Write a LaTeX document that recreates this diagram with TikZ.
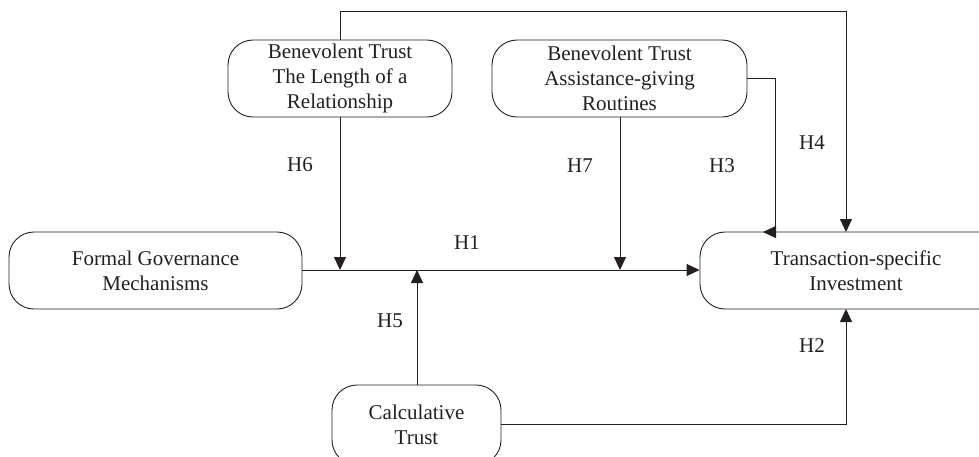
\documentclass[tikz,border=0pt]{standalone}
\usepackage{fontspec}
\setmainfont{Liberation Serif}
\usetikzlibrary{arrows.meta}
\definecolor{ink}{RGB}{35,31,32}
\begin{document}
\begin{tikzpicture}[x=1pt,y=-1pt,
  box/.style={draw=ink, line width=0.9pt, rounded corners=25pt, align=center,
    inner sep=0pt, text=ink, font=\fontsize{21}{25}\selectfont},
  lab/.style={text=ink, inner sep=0pt, font=\fontsize{21}{25}\selectfont},
  link/.style={draw=ink, line width=0.9pt},
  arr/.style={link, -{Triangle[length=13pt,width=12pt]}}]
\useasboundingbox (0,0) rectangle (979,456);
\clip (0,0) rectangle (979,456);
% boxes
\node[box, minimum width=224pt, minimum height=77pt] (btl) at (340,78.5)
  {Benevolent Trust\\The Length of a\\Relationship};
\node[box, minimum width=255pt, minimum height=77pt] (bta) at (619.5,78.5)
  {Benevolent Trust\\Assistance-giving\\Routines};
\node[box, minimum width=293pt, minimum height=77pt] (fgm) at (155.5,270.5)
  {Formal Governance\\Mechanisms};
\node[box, minimum width=312pt, minimum height=77pt] (tsi) at (856,270.5)
  {Transaction-specific\\Investment};
\node[box, minimum width=169pt, minimum height=80pt] (cal) at (416.5,425)
  {Calculative\\Trust};
% coordinates on the H1 line
\coordinate (m6) at (340,270);
\coordinate (m7) at (620,270);
\coordinate (m5) at (417,270);
\coordinate (t4) at (846,232);
\coordinate (c3) at (775,232);
\coordinate (t3) at (763,232);
\coordinate (t2) at (846,309);
% connectors
\draw[arr] (fgm.east |- m6) -- (tsi.west |- m6);
\draw[arr] (btl.south) -- (m6);
\draw[arr] (bta.south -| m7) -- (m7);
\draw[arr] (cal.north -| m5) -- (m5);
\draw[arr] (btl.north) -- (340,11) -- (846,11) -- (t4);
\draw[arr] (bta.east) -- (bta.east -| c3) -- (c3) -- (t3);
\draw[arr] (cal.east |- 0,424) -- (846,424) -- (t2);
% labels
\node[lab] (h1) at (467,243) {H1};
\node[lab] (h2) at (812,346) {H2};
\node[lab] (h3) at (722,166) {H3};
\node[lab] (h4) at (812,143) {H4};
\node[lab] (h5) at (390,321) {H5};
\node[lab] (h6) at (300,165) {H6};
\node[lab] (h7) at (580,166) {H7};
\end{tikzpicture}
\end{document}
